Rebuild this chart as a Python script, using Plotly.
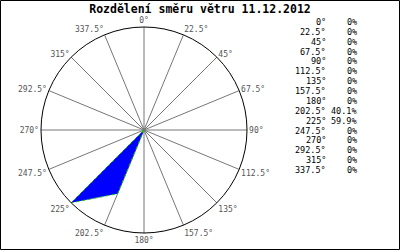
import plotly.graph_objects as go

directions = [0, 22.5, 45, 67.5, 90, 112.5, 135, 157.5, 180, 202.5, 225, 247.5, 270, 292.5, 315, 337.5]
dir_labels = ["0°", "22.5°", "45°", "67.5°", "90°", "112.5°", "135°", "157.5°", "180°",
              "202.5°", "225°", "247.5°", "270°", "292.5°", "315°", "337.5°"]
percent = [0, 0, 0, 0, 0, 0, 0, 0, 0, 40.1, 59.9, 0, 0, 0, 0, 0]
title = "Rozdělení směru větru 11.12.2012"

W, H = 400, 250
cx, cy, R = 144, 130, 103

fig = go.Figure()
fig.add_trace(go.Scatterpolar(
    r=percent + [percent[0]], theta=directions + [directions[0]],
    mode="lines", fill="toself", fillcolor="#0000ff",
    line=dict(color="#00cc00", width=1, dash="dot"),
    hoverinfo="skip", showlegend=False))

fig.update_layout(
    width=W, height=H, margin=dict(l=0, r=0, t=0, b=0),
    paper_bgcolor="white", plot_bgcolor="white",
    polar=dict(
        domain=dict(x=[(cx - R) / W, (cx + R) / W], y=[(H - cy - R) / H, (H - cy + R) / H]),
        bgcolor="white",
        radialaxis=dict(range=[0, max(percent)], visible=False),
        angularaxis=dict(
            direction="clockwise", rotation=90,
            tickmode="array", tickvals=directions, ticktext=dir_labels,
            showgrid=True, gridcolor="#777777", gridwidth=1,
            showline=True, linecolor="black", linewidth=1,
            ticks="", tickfont=dict(family="DejaVu Sans Mono", size=8, color="#555555"),
        ),
    ),
    title=dict(text="<b>" + title + "</b>", x=0.5, xanchor="center", y=1 - 9 / H, yanchor="middle",
               font=dict(family="DejaVu Sans Mono", size=11.5, color="black")),
    font=dict(family="DejaVu Sans Mono"),
)

# border
fig.add_shape(type="rect", xref="paper", yref="paper",
              x0=0.5 / W, x1=1 - 0.5 / W, y0=0.5 / H, y1=1 - 0.5 / H,
              line=dict(color="black", width=1))

# table on right
y0, dy = 22, 9.87
for i, (lab, p) in enumerate(zip(dir_labels, percent)):
    y = 1 - (y0 + i * dy) / H
    fig.add_annotation(x=327 / W, y=y, xref="paper", yref="paper", text=lab, showarrow=False,
                       xanchor="right", yanchor="middle", borderpad=0,
                       font=dict(family="DejaVu Sans Mono", size=8.5, color="black"))
    fig.add_annotation(x=358 / W, y=y, xref="paper", yref="paper", text=f"{p:g}%", showarrow=False,
                       xanchor="right", yanchor="middle", borderpad=0,
                       font=dict(family="DejaVu Sans Mono", size=8.5, color="black"))

fig.write_html("out.html")
